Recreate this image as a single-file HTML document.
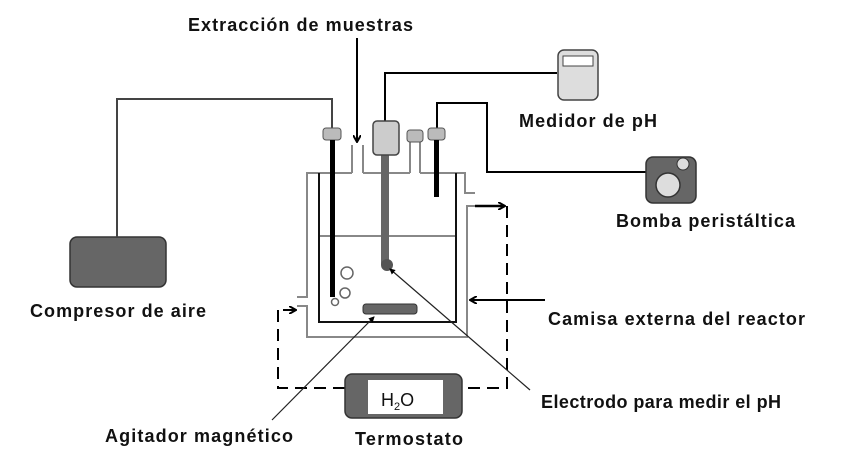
<!DOCTYPE html>
<html><head><meta charset="utf-8"><style>
html,body{margin:0;padding:0;background:#fff;}
svg{display:block;}
text{font-family:"Liberation Sans",Arial,sans-serif;font-weight:bold;font-size:18px;fill:#111;}
</style></head><body>
<svg width="853" height="455" viewBox="0 0 853 455" xmlns="http://www.w3.org/2000/svg">
<defs>
<marker id="ah" markerWidth="8" markerHeight="8" refX="7" refY="4" orient="auto" markerUnits="userSpaceOnUse">
<path d="M0,0 L7,4 L0,8" fill="none" stroke="#000" stroke-width="2"/></marker>
<marker id="sa" markerWidth="6" markerHeight="6" refX="5" refY="3" orient="auto" markerUnits="userSpaceOnUse">
<path d="M0,0 L6,3 L0,6 z" fill="#000"/></marker>
</defs>
<text x="188" y="31" textLength="225" lengthAdjust="spacing">Extracción de muestras</text>
<text x="519" y="127" textLength="138" lengthAdjust="spacing">Medidor de pH</text>
<text x="616" y="227" textLength="179" lengthAdjust="spacing">Bomba peristáltica</text>
<text x="30" y="317" textLength="176" lengthAdjust="spacing">Compresor de aire</text>
<text x="548" y="325" textLength="257" lengthAdjust="spacing">Camisa externa del reactor</text>
<text x="541" y="408" textLength="240" lengthAdjust="spacing">Electrodo para medir el pH</text>
<text x="105" y="442" textLength="188" lengthAdjust="spacing">Agitador magnético</text>
<text x="355" y="445" textLength="108" lengthAdjust="spacing">Termostato</text>

<rect x="70" y="237" width="96" height="50" rx="7" fill="#666" stroke="#333" stroke-width="1.5"/>
<polyline points="117,237 117,99 332,99 332,128" fill="none" stroke="#444" stroke-width="2"/>
<line x1="357" y1="38" x2="357" y2="142" stroke="#000" stroke-width="2" marker-end="url(#ah)"/>
<polyline points="385,121 385,73 557,73" fill="none" stroke="#000" stroke-width="2"/>
<polyline points="437,128 437,103 487,103 487,172 646,172" fill="none" stroke="#000" stroke-width="2"/>

<g fill="none" stroke="#888" stroke-width="2">
<polyline points="352,173 307,173 307,297 297,297"/>
<polyline points="297,306 307,306 307,337 467,337 467,206 475,206"/>
<polyline points="363,173 363,145"/><polyline points="352,173 352,145"/>
<polyline points="410,173 410,142"/><polyline points="420,173 420,142"/>
<polyline points="363,173 410,173"/><polyline points="420,173 457,173 465,173 465,193 475,193"/>
<line x1="320" y1="236" x2="455" y2="236"/>
</g>
<polyline points="319,173 319,322 456,322 456,173" fill="none" stroke="#111" stroke-width="2"/>
<rect x="323" y="128" width="18" height="12" rx="3" fill="#bbb" stroke="#555"/>
<rect x="407" y="130" width="16" height="12" rx="3" fill="#bbb" stroke="#555"/>
<rect x="428" y="128" width="17" height="12" rx="3" fill="#bbb" stroke="#555"/>
<rect x="330" y="140" width="5" height="157" fill="#000"/>
<rect x="434" y="140" width="5" height="57" fill="#000"/>
<rect x="381" y="155" width="8" height="110" fill="#666"/>
<circle cx="387" cy="265" r="6" fill="#555"/>
<rect x="373" y="121" width="26" height="34" rx="4" fill="#ccc" stroke="#444" stroke-width="1.5"/>
<g fill="#fff" stroke="#666" stroke-width="1.5">
<circle cx="347" cy="273" r="6"/><circle cx="345" cy="293" r="5"/><circle cx="335" cy="302" r="3.5"/>
</g>
<rect x="363" y="304" width="54" height="10" rx="3" fill="#666" stroke="#333"/>

<polyline points="475,206 505,206" fill="none" stroke="#000" stroke-width="2.5" marker-end="url(#ah)"/>
<polyline points="507,206 507,388 462,388" fill="none" stroke="#000" stroke-width="2" stroke-dasharray="12,7"/>
<polyline points="345,388 278,388 278,310 288,310" fill="none" stroke="#000" stroke-width="2" stroke-dasharray="12,7"/>
<line x1="283" y1="310" x2="296" y2="310" stroke="#000" stroke-width="2" marker-end="url(#ah)"/>
<rect x="345" y="374" width="117" height="44" rx="7" fill="#666" stroke="#333" stroke-width="1.5"/>
<rect x="368" y="380" width="75" height="34" fill="#fff"/>
<text x="381" y="406" style="font-weight:normal;font-size:18px">H<tspan font-size="11" dy="4">2</tspan><tspan dy="-4">O</tspan></text>

<line x1="545" y1="300" x2="470" y2="300" stroke="#000" stroke-width="2" marker-end="url(#ah)"/>
<line x1="530" y1="390" x2="390" y2="269" stroke="#222" stroke-width="1.2" marker-end="url(#sa)"/>
<line x1="272" y1="420" x2="374" y2="317" stroke="#222" stroke-width="1.2" marker-end="url(#sa)"/>

<rect x="558" y="50" width="40" height="50" rx="6" fill="#ddd" stroke="#444" stroke-width="1.5"/>
<rect x="563" y="56" width="30" height="10" fill="#fff" stroke="#444"/>
<rect x="646" y="157" width="50" height="46" rx="7" fill="#666" stroke="#333" stroke-width="1.5"/>
<circle cx="668" cy="185" r="12" fill="#ddd" stroke="#333" stroke-width="1.5"/>
<circle cx="683" cy="164" r="6" fill="#ddd" stroke="#333"/>
</svg>
</body></html>
